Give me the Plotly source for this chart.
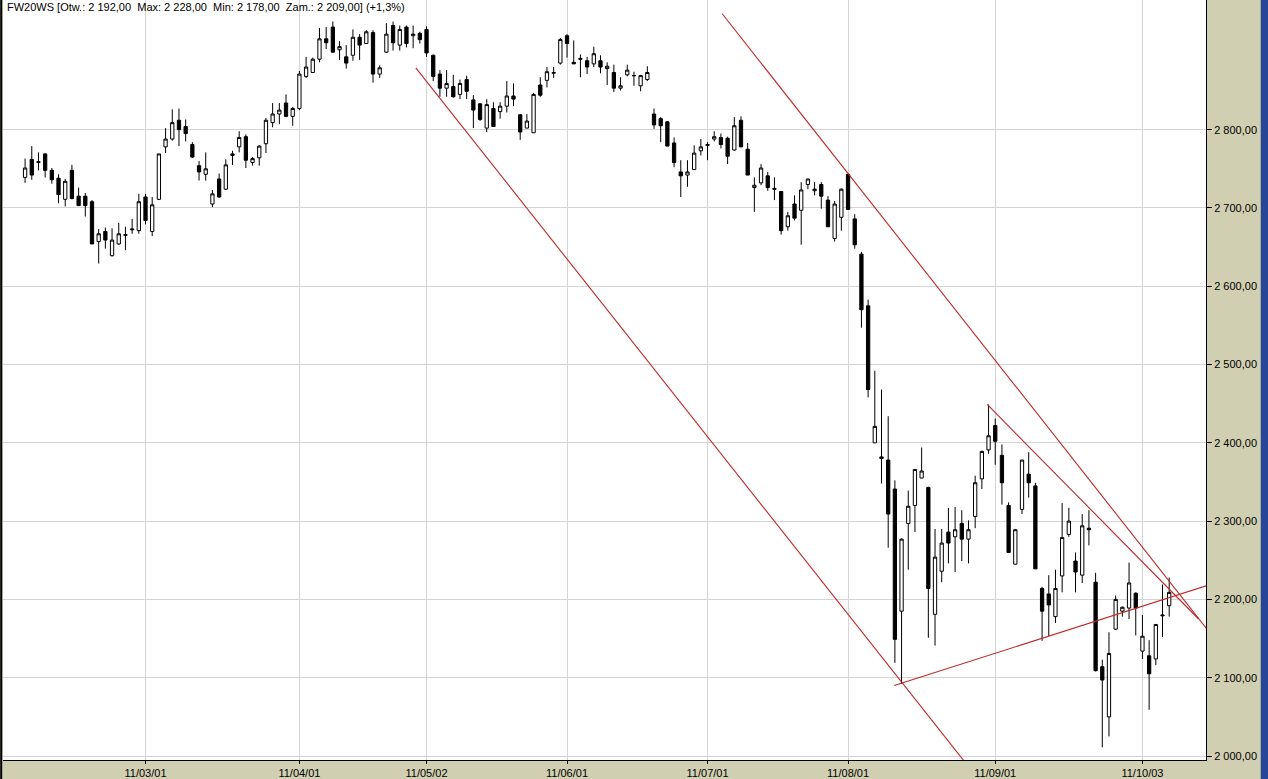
import pandas as pd
import plotly.graph_objects as go

# ---------------- data ----------------
holidays = ["2011-04-22", "2011-04-25", "2011-05-03", "2011-06-23", "2011-08-15"]
dates = [d.strftime("%Y-%m-%d") for d in pd.bdate_range("2011-02-03", "2011-10-07")
         if d.strftime("%Y-%m-%d") not in holidays]

open_ = [2739, 2762, 2758, 2769, 2748, 2738, 2711, 2748, 2715, 2715,
         2708, 2657, 2670, 2639, 2654, 2666, 2672, 2671, 2714, 2670,
         2711, 2778, 2788, 2812, 2804, 2781, 2754, 2743, 2705, 2737,
         2724, 2767, 2778, 2791, 2758, 2764, 2782, 2809, 2820, 2834,
         2817, 2827, 2868, 2873, 2890, 2916, 2931, 2902, 2893, 2895,
         2918, 2910, 2924, 2871, 2899, 2933, 2908, 2931, 2920, 2923,
         2928, 2895, 2871, 2853, 2855, 2845, 2864, 2838, 2833, 2802,
         2827, 2823, 2830, 2843, 2819, 2802, 2796, 2857, 2863, 2872,
         2885, 2920, 2886, 2891, 2888, 2884, 2888, 2878, 2873, 2853,
         2870, 2869, 2856, 2864, 2820, 2814, 2810, 2783, 2746, 2742,
         2749, 2773, 2781, 2788, 2790, 2789, 2774, 2812, 2775, 2726,
         2732, 2741, 2725, 2721, 2676, 2705, 2697, 2730, 2722, 2730,
         2710, 2661, 2688, 2743, 2686, 2641, 2575, 2400, 2382, 2378,
         2341, 2185, 2297, 2320, 2355, 2343, 2181, 2236, 2286, 2280,
         2297, 2277, 2306, 2354, 2391, 2422, 2384, 2320, 2245, 2315,
         2360, 2345, 2214, 2207, 2178, 2230, 2283, 2249, 2231, 2291,
         2222, 2114, 2050, 2162, 2185, 2189, 2208, 2134, 2128, 2124,
         2179, 2192]
high = [2763, 2779, 2771, 2770, 2751, 2743, 2737, 2755, 2726, 2719,
        2710, 2673, 2675, 2674, 2681, 2676, 2686, 2718, 2718, 2714,
        2769, 2802, 2826, 2827, 2813, 2784, 2760, 2771, 2723, 2744,
        2762, 2773, 2798, 2794, 2765, 2780, 2815, 2834, 2834, 2845,
        2829, 2875, 2893, 2892, 2930, 2931, 2938, 2913, 2908, 2928,
        2922, 2927, 2927, 2882, 2936, 2938, 2933, 2933, 2933, 2925,
        2932, 2896, 2876, 2876, 2870, 2864, 2869, 2844, 2834, 2839,
        2835, 2835, 2862, 2859, 2820, 2820, 2847, 2867, 2880, 2880,
        2917, 2922, 2914, 2896, 2893, 2906, 2895, 2886, 2883, 2867,
        2883, 2874, 2870, 2881, 2827, 2816, 2811, 2790, 2761, 2761,
        2780, 2788, 2784, 2798, 2795, 2791, 2816, 2817, 2783, 2739,
        2756, 2746, 2739, 2721, 2695, 2716, 2733, 2737, 2733, 2733,
        2715, 2709, 2725, 2744, 2692, 2644, 2583, 2492, 2468, 2434,
        2352, 2278, 2339, 2366, 2394, 2344, 2290, 2290, 2317, 2318,
        2314, 2301, 2358, 2390, 2449, 2431, 2398, 2324, 2290, 2378,
        2388, 2349, 2216, 2231, 2238, 2323, 2317, 2260, 2309, 2314,
        2234, 2123, 2158, 2205, 2191, 2247, 2209, 2180, 2148, 2168,
        2219, 2228]
low = [2732, 2736, 2748, 2739, 2731, 2706, 2702, 2711, 2703, 2689,
       2654, 2629, 2648, 2638, 2653, 2646, 2667, 2667, 2679, 2664,
       2710, 2770, 2786, 2779, 2785, 2764, 2735, 2735, 2701, 2713,
       2723, 2755, 2771, 2751, 2754, 2754, 2770, 2803, 2807, 2816,
       2805, 2825, 2866, 2873, 2886, 2903, 2899, 2889, 2878, 2888,
       2889, 2910, 2860, 2866, 2898, 2901, 2901, 2905, 2904, 2910,
       2893, 2862, 2842, 2842, 2841, 2839, 2839, 2802, 2811, 2797,
       2804, 2814, 2822, 2830, 2787, 2802, 2796, 2842, 2854, 2866,
       2883, 2892, 2884, 2867, 2871, 2880, 2872, 2857, 2848, 2850,
       2868, 2856, 2849, 2862, 2801, 2784, 2779, 2752, 2714, 2727,
       2749, 2767, 2761, 2785, 2776, 2756, 2773, 2778, 2742, 2695,
       2729, 2722, 2710, 2666, 2671, 2684, 2653, 2724, 2716, 2699,
       2676, 2657, 2671, 2698, 2648, 2547, 2458, 2400, 2348, 2266,
       2119, 2092, 2238, 2286, 2355, 2151, 2141, 2222, 2246, 2235,
       2249, 2246, 2291, 2341, 2386, 2372, 2321, 2260, 2245, 2309,
       2330, 2239, 2147, 2153, 2170, 2209, 2280, 2209, 2221, 2269,
       2108, 2011, 2025, 2161, 2178, 2175, 2154, 2124, 2059, 2116,
       2152, 2178]
close = [2751, 2742, 2759, 2748, 2736, 2717, 2734, 2712, 2703, 2703,
         2654, 2667, 2659, 2659, 2667, 2665, 2673, 2708, 2684, 2704,
         2769, 2788, 2809, 2800, 2795, 2765, 2746, 2750, 2718, 2714,
         2755, 2769, 2790, 2761, 2763, 2779, 2812, 2820, 2825, 2817,
         2827, 2871, 2880, 2890, 2916, 2911, 2899, 2906, 2885, 2918,
         2908, 2925, 2871, 2879, 2922, 2911, 2928, 2910, 2922, 2915,
         2898, 2868, 2853, 2859, 2842, 2859, 2849, 2825, 2813, 2832,
         2804, 2830, 2843, 2839, 2797, 2811, 2845, 2844, 2874, 2873,
         2915, 2910, 2884, 2890, 2880, 2897, 2880, 2881, 2853, 2856,
         2876, 2869, 2869, 2873, 2806, 2805, 2779, 2758, 2741, 2746,
         2770, 2778, 2780, 2791, 2781, 2766, 2805, 2778, 2742, 2729,
         2751, 2726, 2724, 2671, 2690, 2687, 2723, 2737, 2724, 2715,
         2676, 2705, 2724, 2698, 2653, 2570, 2468, 2421, 2380, 2309,
         2149, 2277, 2319, 2366, 2364, 2214, 2254, 2272, 2272, 2289,
         2277, 2289, 2349, 2389, 2409, 2402, 2349, 2260, 2289, 2378,
         2349, 2239, 2185, 2193, 2214, 2279, 2300, 2235, 2294, 2289,
         2109, 2097, 2131, 2200, 2190, 2221, 2189, 2153, 2105, 2168,
         2180, 2209]

month_start_dates = ["2011-03-01", "2011-04-01", "2011-05-02", "2011-06-01",
                     "2011-07-01", "2011-08-01", "2011-09-01", "2011-10-03"]
tick_labels = ["11/03/01", "11/04/01", "11/05/02", "11/06/01",
               "11/07/01", "11/08/01", "11/09/01", "11/10/03"]

price_ticks = [2000, 2100, 2200, 2300, 2400, 2500, 2600, 2700, 2800]

# trend lines: (trading-day position, price) start and end
trend_x0 = [58.4, 104.2, 143.8, 129.9]
trend_y0 = [2879, 2948, 2449, 2090]
trend_x1 = [141.6, 183.0, 175.4, 181.9]
trend_y1 = [1980, 2093, 2175, 2232]

instrument = "FW20WS"

# ---------------- helpers ----------------
NB = "\u00a0"


def fmt(v):
    return f"{int(round(v)):,}".replace(",", NB) + ",00"


change = (close[-1] - close[-2]) / close[-2] * 100
change_txt = f"{change:.1f}".replace(".", ",")
title_text = (f"{instrument} [Otw.: {fmt(open_[-1])}{NB}{NB}Max: {fmt(high[-1])}{NB}{NB}"
              f"Min: {fmt(low[-1])}{NB}{NB}Zam.: {fmt(close[-1])}] (+{change_txt}%)")

# ---------------- figure ----------------
FONT = "Liberation Sans, Arial, sans-serif"
TAN = "rgb(208,207,178)"

fig = go.Figure()
fig.add_trace(go.Candlestick(
    x=dates, open=open_, high=high, low=low, close=close,
    increasing=dict(line=dict(color="black", width=1), fillcolor="white"),
    decreasing=dict(line=dict(color="black", width=1), fillcolor="black"),
    whiskerwidth=0, hoverinfo="x+y", showlegend=False,
))

for x0, y0, x1, y1 in zip(trend_x0, trend_y0, trend_x1, trend_y1):
    fig.add_shape(type="line", xref="x", yref="y", x0=x0, y0=y0, x1=x1, y1=y1,
                  line=dict(color="rgb(190,40,40)", width=1.1))

# left dark border
fig.add_shape(type="line", xref="paper", yref="paper", x0=-0.0015, x1=-0.0015, y0=-0.03, y1=1,
              line=dict(color="black", width=2))
# right window edge
fig.add_shape(type="rect", xref="paper", yref="paper", x0=1.0455, x1=1.06, y0=-0.03, y1=1.0,
              line=dict(width=0), fillcolor="rgb(40,70,150)")

fig.add_annotation(text=title_text, xref="paper", yref="paper", x=0, y=1,
                   xanchor="left", yanchor="top", xshift=2, yshift=1, showarrow=False,
                   font=dict(family=FONT, size=11, color="black"))

fig.update_layout(
    width=1268, height=779,
    margin=dict(l=3, r=62, t=0, b=19),
    paper_bgcolor=TAN, plot_bgcolor="white",
    font=dict(family=FONT, size=11, color="black"),
    showlegend=False,
    xaxis=dict(
        type="category", range=[-3.3, 176.5],
        tickvals=month_start_dates, ticktext=tick_labels,
        showgrid=True, gridcolor="rgb(212,212,212)", gridwidth=1,
        ticks="outside", ticklen=3, tickcolor="black",
        showline=True, linecolor="black", linewidth=1,
        rangeslider=dict(visible=False), tickangle=0,
        tickfont=dict(family=FONT, size=11), automargin=False,
    ),
    yaxis=dict(
        side="right", range=[1994.9, 2965.6],
        tickvals=price_ticks, ticktext=[fmt(v) for v in price_ticks],
        showgrid=True, gridcolor="rgb(212,212,212)", gridwidth=1,
        ticks="outside", ticklen=5, tickcolor="black",
        showline=True, linecolor="black", linewidth=1,
        zeroline=False, tickfont=dict(family=FONT, size=11), automargin=False,
    ),
)

fig.write_html("out.html", config={"displayModeBar": False},
               post_script="document.body.style.margin='0';document.body.style.overflow='hidden';")
